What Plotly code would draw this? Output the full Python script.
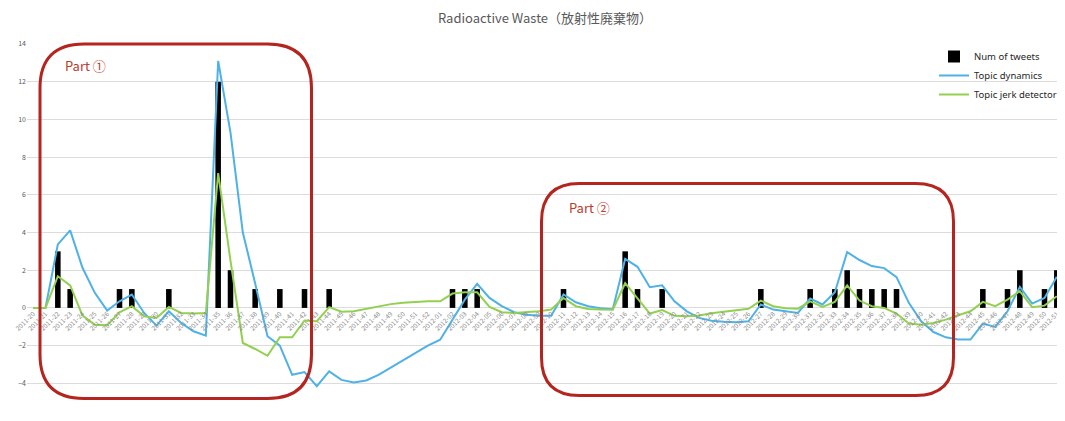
import plotly.graph_objects as go

# ---------------- data ----------------
weeks = [f"2011-{w:02d}" for w in range(20, 53)] + [f"2012-{w:02d}" for w in range(1, 52)]

tweet_weeks = ["2011-22", "2011-23", "2011-27", "2011-28", "2011-31", "2011-35", "2011-36",
               "2011-38", "2011-40", "2011-42", "2011-44", "2012-02", "2012-03", "2012-04",
               "2012-11", "2012-16", "2012-17", "2012-19", "2012-27", "2012-31", "2012-33",
               "2012-34", "2012-35", "2012-36", "2012-37", "2012-38", "2012-45", "2012-47",
               "2012-48", "2012-50", "2012-51"]
tweet_counts = [3, 1, 1, 1, 1, 12, 2,
                1, 1, 1, 1, 1, 1, 1,
                1, 3, 1, 1, 1, 1, 1,
                2, 1, 1, 1, 1, 1, 1,
                2, 1, 2]

topic_dynamics = [
    0, 0, 3.37, 4.11, 2.13, 0.8, -0.14, 0.35, 0.71, -0.27, -0.94, -0.18, -0.8, -1.24, -1.47,
    13.1, 9.3, 4.0, 1.3, -1.5, -2.0, -3.55, -3.4, -4.15, -3.37, -3.82, -3.96, -3.85, -3.55,
    -3.16, -2.75, -2.36, -2.0,
    -1.69, -0.62, 0.44, 1.28, 0.53, 0.09, -0.23, -0.36, -0.41, -0.41, 0.71, 0.3, 0.09, -0.02,
    -0.07, 2.6, 2.18, 1.1, 1.2, 0.35, -0.18, -0.53, -0.68, -0.74, -0.76, -0.71, 0.18, -0.09,
    -0.18, -0.27, 0.5, 0.18, 0.83, 2.96, 2.54, 2.22, 2.11, 1.63, 0.27, -0.71, -1.28, -1.56,
    -1.68, -1.68, -0.83, -1.01, -0.18, 1.12, 0.23, 0.53, 1.65]

topic_jerk = [
    0, 0, 1.68, 1.19, -0.41, -0.89, -0.92, -0.23, 0.09, -0.45, -0.53, 0.05, -0.27, -0.3, -0.27,
    7.15, 2.5, -1.86, -2.18, -2.54, -1.56, -1.56, -0.67, -0.71, 0.04, -0.2, -0.18, -0.06, 0.09,
    0.2, 0.27, 0.32, 0.35,
    0.35, 0.76, 0.83, 0.83, 0.05, -0.23, -0.27, -0.23, -0.18, -0.09, 0.53, 0.09, -0.06, -0.09,
    -0.1, 1.31, 0.5, -0.3, -0.12, -0.42, -0.44, -0.4, -0.28, -0.21, -0.12, -0.05, 0.39, 0.09,
    -0.02, -0.04, 0.35, 0.05, 0.32, 1.19, 0.39, 0.09, 0.0, -0.3, -0.83, -0.89, -0.8, -0.62,
    -0.39, -0.18, 0.32, 0.09, 0.44, 0.89, 0.04, 0.12, 0.62]

y_ticks = [-6, -4, -2, 0, 2, 4, 6, 8, 10, 12, 14]

# ---------------- layout constants (reference-window pixels) ----------------
WIN_W, WIN_H = 1065, 421
OFF = 8                      # default page body margin
W, H = WIN_W - OFF, WIN_H - OFF
L, R, T, B = 27, 1063, 44, 421
Y_MIN, Y_MAX = -6, 14

count_map = dict(zip(tweet_weeks, tweet_counts))
num_tweets = [count_map.get(w, 0) for w in weeks]

BLUE = "#4FB1E6"
GREEN = "#92D050"
RED_BOX = "#B3251E"
RED_TXT = "#C0392B"
GRID = "#DCDCDC"
TICK = "#595959"


def px_to_paper(px, py):
    return (px - L) / (R - L), (B - py) / (B - T)


def rounded_rect(x0, y0, x1, y1, r):
    pts = [
        ("M", [(x0 + r, y0)]),
        ("L", [(x1 - r, y0)]),
        ("Q", [(x1, y0), (x1, y0 + r)]),
        ("L", [(x1, y1 - r)]),
        ("Q", [(x1, y1), (x1 - r, y1)]),
        ("L", [(x0 + r, y1)]),
        ("Q", [(x0, y1), (x0, y1 - r)]),
        ("L", [(x0, y0 + r)]),
        ("Q", [(x0, y0), (x0 + r, y0)]),
    ]
    out = []
    for cmd, ps in pts:
        coords = " ".join("%.5f,%.5f" % px_to_paper(a, b) for a, b in ps)
        out.append(f"{cmd} {coords}")
    return " ".join(out) + " Z"


fig = go.Figure()
fig.add_trace(go.Bar(x=weeks, y=num_tweets, name="Num of tweets",
                     marker=dict(color="black", line=dict(width=0)), width=0.45))
fig.add_trace(go.Scatter(x=weeks, y=topic_dynamics, name="Topic dynamics", mode="lines",
                         line=dict(color=BLUE, width=2)))
fig.add_trace(go.Scatter(x=weeks, y=topic_jerk, name="Topic jerk detector", mode="lines",
                         line=dict(color=GREEN, width=2)))

zero_pos = (0 - Y_MIN) / (Y_MAX - Y_MIN)

fig.update_layout(
    width=W, height=H,
    template="none",
    paper_bgcolor="white", plot_bgcolor="white",
    margin=dict(l=L - OFF, r=WIN_W - R, t=T - OFF, b=WIN_H - B, pad=0),
    font=dict(family="Noto Sans CJK JP, Noto Sans, sans-serif", color=TICK),
    title=dict(text="Radioactive Waste（放射性廃棄物）", x=0.5, xref="paper", xanchor="center",
               y=1 - (18 - OFF) / H, yref="container", yanchor="middle",
               font=dict(size=13, color="#595959")),
    xaxis=dict(type="category", tickmode="array", tickvals=weeks, ticktext=weeks,
               tickangle=-45, tickfont=dict(size=6.5, color="#8C8C8C"),
               showgrid=False, showline=False, zeroline=False, ticks="",
               anchor="free", position=zero_pos, automargin=False,
               range=[-0.5, len(weeks) - 0.5]),
    yaxis=dict(range=[Y_MIN, Y_MAX], tickmode="array", tickvals=y_ticks,
               showgrid=True, gridcolor=GRID, gridwidth=1, zeroline=True,
               zerolinecolor=GRID, zerolinewidth=1, showline=False, ticks="",
               tickfont=dict(size=7, color=TICK), automargin=False),
    showlegend=True,
    legend=dict(x=px_to_paper(1062, 0)[0], y=px_to_paper(0, 42)[1], xanchor="right", yanchor="top",
                xref="paper", yref="paper", bgcolor="rgba(0,0,0,0)",
                font=dict(size=9.5, color="#262626", family="Noto Sans, sans-serif"),
                itemwidth=30, tracegroupgap=0),
)

# red highlight boxes
boxes = [(40, 44, 311.5, 398.5, 44), (541.5, 183.5, 953.5, 395.5, 38)]
for (x0, y0, x1, y1, r) in boxes:
    fig.add_shape(type="path", path=rounded_rect(x0, y0, x1, y1, r), xref="paper", yref="paper",
                  line=dict(color=RED_BOX, width=3), fillcolor="rgba(0,0,0,0)", layer="above")

labels = [("Part ①", 63, 65), ("Part ②", 567, 207)]
for text, px, py in labels:
    ax, ay = px_to_paper(px, py)
    fig.add_annotation(text=text, x=ax, y=ay, xref="paper", yref="paper", xanchor="left",
                       yanchor="middle", showarrow=False,
                       font=dict(size=13, color=RED_TXT, family="Noto Sans CJK JP, sans-serif"))

fig.write_html("out.html")
